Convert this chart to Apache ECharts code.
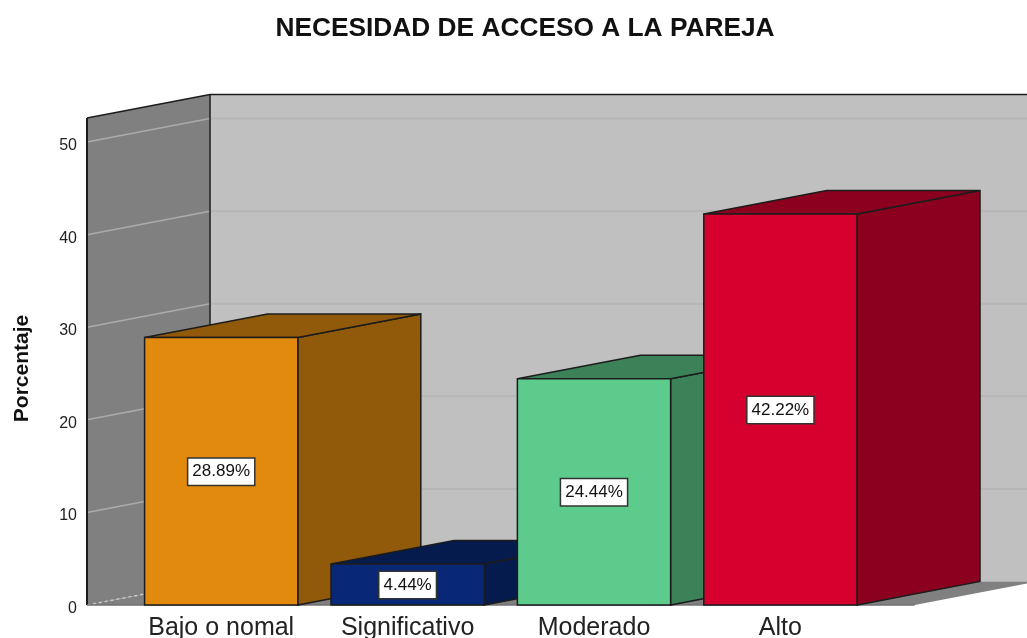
<!DOCTYPE html>
<html>
<head>
<meta charset="utf-8">
<style>html,body{margin:0;padding:0;background:#fff}#c{width:1027px;height:638px}</style>
<script src="https://cdn.jsdelivr.net/npm/echarts@6/dist/echarts.min.js"></script>
</head>
<body>
<div id="c"></div>
<script>
const titleText = 'NECESIDAD DE ACCESO A LA PAREJA';
const yAxisName = 'Porcentaje';
const categories = ['Bajo o nomal', 'Significativo', 'Moderado', 'Alto'];
const percentages = [28.89, 4.44, 24.44, 42.22];
const yTicks = [0, 10, 20, 30, 40, 50];
const frontColors = ['#E18A0E', '#082877', '#5CCB8C', '#D6002F'];
const sideColors = ['#905A0A', '#051A4D', '#3C8259', '#8B001F'];

const DEPTH_X = 123, DEPTH_Y = 23.5, WALL_PAD = 41, FONT = '"Liberation Sans", Arial, sans-serif';
const EDGE = '#1c1c1c';

function renderRoom(params, api) {
  const cs = params.coordSys;
  const L = cs.x - WALL_PAD, R = cs.x + cs.width + WALL_PAD, T = cs.y, B = cs.y + cs.height;
  const c = [];
  const poly = (points, fill) => ({type: 'polygon', shape: {points}, style: {fill, stroke: null}, silent: true});
  const line = (x1, y1, x2, y2, stroke, lineWidth, lineDash) => ({type: 'line', shape: {x1, y1, x2, y2}, style: {stroke, lineWidth, lineDash}, silent: true});
  c.push(poly([[L + DEPTH_X, T - DEPTH_Y], [R + DEPTH_X, T - DEPTH_Y], [R + DEPTH_X, B - DEPTH_Y], [L + DEPTH_X, B - DEPTH_Y]], '#C0C0C0'));
  c.push(poly([[L, T], [L + DEPTH_X, T - DEPTH_Y], [L + DEPTH_X, B - DEPTH_Y], [L, B]], '#808080'));
  c.push(poly([[L, B], [L + DEPTH_X, B - DEPTH_Y], [R + DEPTH_X, B - DEPTH_Y], [R, B]], '#808080'));
  yTicks.forEach(t => {
    const y = api.coord([0, t])[1];
    if (t > 0) {
      c.push(line(L + DEPTH_X, y - DEPTH_Y, R + DEPTH_X, y - DEPTH_Y, '#B6B6B6', 2));
      c.push(line(L, y, L + DEPTH_X, y - DEPTH_Y, '#ABABAB', 1.5));
    } else {
      c.push(line(L, y, L + DEPTH_X, y - DEPTH_Y, '#C8C8C8', 1.5, [3, 3]));
    }
  });
  c.push(line(L, T, L, B, EDGE, 2));
  c.push(line(L, T, L + DEPTH_X, T - DEPTH_Y, EDGE, 1.5));
  c.push(line(L + DEPTH_X, T - DEPTH_Y, R + DEPTH_X, T - DEPTH_Y, EDGE, 1.5));
  c.push(line(L + DEPTH_X, T - DEPTH_Y, L + DEPTH_X, B - DEPTH_Y, EDGE, 1.5));
  c.push(line(L, B, R, B, '#707070', 1.5));
  return {type: 'group', children: c};
}

function renderBar(params, api) {
  const i = api.value(0), v = api.value(1);
  const top = api.coord([i, v]), base = api.coord([i, 0]);
  const w = api.size([1, 0])[0] * 0.822;
  const x0 = top[0] - w / 2, x1 = top[0] + w / 2, yT = top[1], yB = base[1];
  const st = fill => ({fill, stroke: EDGE, lineWidth: 1.5, lineJoin: 'miter'});
  return {type: 'group', children: [
    {type: 'polygon', shape: {points: [[x1, yT], [x1 + DEPTH_X, yT - DEPTH_Y], [x1 + DEPTH_X, yB - DEPTH_Y], [x1, yB]]}, style: st(sideColors[i])},
    {type: 'polygon', shape: {points: [[x0, yT], [x0 + DEPTH_X, yT - DEPTH_Y], [x1 + DEPTH_X, yT - DEPTH_Y], [x1, yT]]}, style: st(sideColors[i])},
    {type: 'polygon', shape: {points: [[x0, yT], [x1, yT], [x1, yB], [x0, yB]]}, style: st(frontColors[i])},
    {type: 'text', style: {
      text: v.toFixed(2) + '%', x: top[0], y: (yT + yB) / 2 + 0.5, align: 'center', verticalAlign: 'middle',
      font: '17px ' + FONT, fill: '#111', backgroundColor: '#fff', borderColor: '#333', borderWidth: 1.5, padding: [5, 4, 4, 4]
    }}
  ]};
}

const chart = echarts.init(document.getElementById('c'), null, {renderer: 'canvas'});
chart.setOption({
  animation: false,
  backgroundColor: '#fff',
  title: {
    text: titleText, left: 520, top: 11, textAlign: 'center',
    textStyle: {fontFamily: FONT, fontSize: 26.3, fontWeight: 'bold', color: '#111'}
  },
  grid: {left: 128, top: 118, width: 745.6, height: 487, outerBoundsMode: 'none'},
  xAxis: {
    type: 'category', data: categories,
    axisLine: {show: false}, axisTick: {show: false}, splitLine: {show: false},
    axisLabel: {fontFamily: FONT, fontSize: 25, color: '#222', margin: 11, interval: 0}
  },
  yAxis: {
    type: 'value', min: 0, max: 52.6, interval: 10, offset: 41,
    name: yAxisName, nameLocation: 'middle', nameGap: 54, nameRotate: 90,
    nameTextStyle: {fontFamily: FONT, fontSize: 21, fontWeight: 'bold', color: '#111', padding: [0, 14, 0, 0]},
    axisLine: {show: false}, axisTick: {show: false}, splitLine: {show: false},
    axisLabel: {fontFamily: FONT, fontSize: 16, color: '#222', margin: 10, showMaxLabel: false, verticalAlign: 'top', lineHeight: 7}
  },
  series: [
    {type: 'custom', z: 1, silent: true, renderItem: renderRoom, data: [[0, 0]], encode: {x: 0, y: 1}},
    {type: 'custom', z: 2, silent: true, renderItem: renderBar, encode: {x: 0, y: 1},
     data: percentages.map((p, i) => [i, p])}
  ]
});
</script>
</body>
</html>
